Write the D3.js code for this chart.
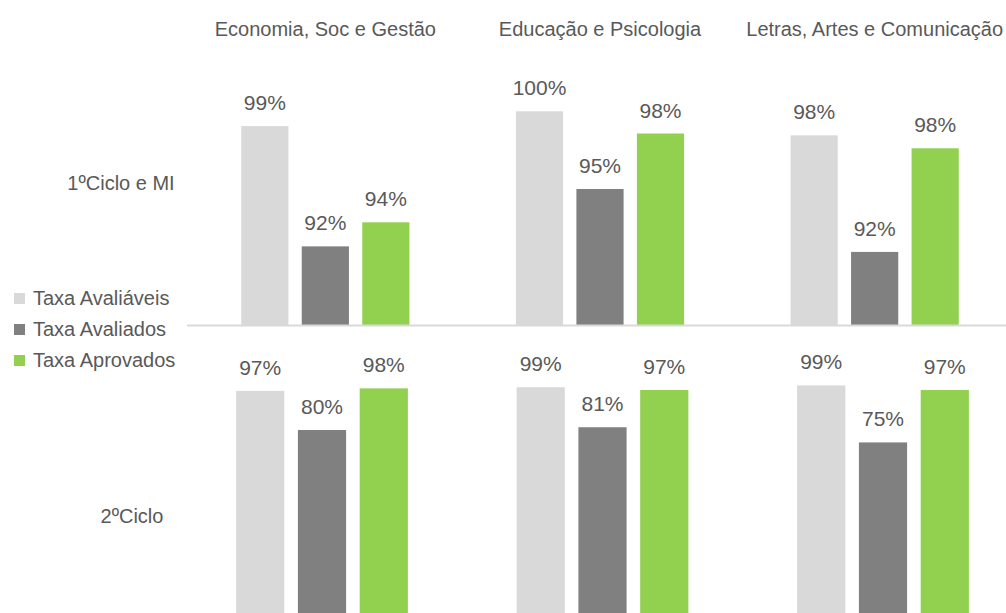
<!DOCTYPE html>
<html><head><meta charset="utf-8">
<script src="https://cdn.jsdelivr.net/npm/d3@7"></script>
<style>
body{margin:0;background:#fff}
svg{display:block}
text{font-family:"Liberation Sans",Arial,sans-serif;fill:#595959}
</style></head>
<body><svg id="c" width="1006" height="613"></svg>
<script>
// ---- data ----
const areas = ["Economia, Soc e Gestão", "Educação e Psicologia", "Letras, Artes e Comunicação"];
const cycles = ["1ºCiclo e MI", "2ºCiclo"];
const series = ["Taxa Avaliáveis", "Taxa Avaliados", "Taxa Aprovados"];
// 1ºCiclo e MI, per area
const avaliaveis1 = [0.988, 0.996, 0.983];
const avaliados1  = [0.923, 0.954, 0.920];
const aprovados1  = [0.936, 0.984, 0.976];
// 2ºCiclo, per area
const avaliaveis2 = [0.970, 0.986, 0.994];
const avaliados2  = [0.800, 0.812, 0.746];
const aprovados2  = [0.981, 0.974, 0.974];

const colors = ["#d9d9d9", "#808080", "#92d050"];
const fmt = d3.format(".0%");

const svg = d3.select("#c");

const rows = [
  { name: cycles[0], vals: [avaliaveis1, avaliados1, aprovados1],
    x: d3.scaleBand().domain(areas).range([188, 1012]),
    y: d3.scaleLinear().domain([0.8805, 1]).range([325, 103.9]),
    lx: 121, ly: 190 },
  { name: cycles[1], vals: [avaliaveis2, avaliados2, aprovados2],
    x: d3.scaleBand().domain(areas).range([181.75, 1023.25]),
    y: d3.scaleLinear().domain([0, 1]).range([614, 384]),
    lx: 132, ly: 523 }
];

rows.forEach((r, ri) => {
  const inner = d3.scaleBand().domain(series).range([0, r.x.bandwidth()])
    .paddingInner(0.22).paddingOuter(0.88);
  const g = svg.append("g");
  const data = [];
  areas.forEach((a, ai) => series.forEach((s, si) => data.push({a, s, si, v: r.vals[si][ai]})));
  g.selectAll("rect").data(data).join("rect")
    .attr("x", d => r.x(d.a) + inner(d.s))
    .attr("width", inner.bandwidth())
    .attr("y", d => r.y(d.v))
    .attr("height", d => r.y.range()[0] - r.y(d.v))
    .attr("fill", d => colors[d.si]);
  g.selectAll("text.lbl").data(data).join("text").attr("class", "lbl")
    .attr("x", d => r.x(d.a) + inner(d.s) + inner.bandwidth() / 2)
    .attr("y", d => r.y(d.v) - 16)
    .attr("text-anchor", "middle")
    .style("font-size", "21px")
    .text(d => fmt(d.v));
  svg.append("text")
    .attr("x", r.lx).attr("y", r.ly)
    .attr("text-anchor", "middle")
    .style("font-size", "20px")
    .text(r.name);
});

// separator axis line under the first row
const r0 = rows[0];
svg.append("line")
  .attr("x1", r0.x.range()[0] - 1).attr("x2", 1006)
  .attr("y1", r0.y.range()[0] + 0.5).attr("y2", r0.y.range()[0] + 0.5)
  .attr("stroke", "#d9d9d9").attr("stroke-width", 2);

// column titles
svg.selectAll("text.title").data(areas).join("text").attr("class", "title")
  .attr("x", d => r0.x(d) + r0.x.bandwidth() / 2)
  .attr("y", 36)
  .attr("text-anchor", "middle")
  .style("font-size", "20px")
  .text(d => d);

// legend
const leg = svg.append("g").selectAll("g").data(series).join("g")
  .attr("transform", (d, i) => `translate(14,${305 + i * 31})`);
leg.append("rect").attr("x", 0).attr("y", -12).attr("width", 11).attr("height", 11)
  .attr("fill", (d, i) => colors[i]);
leg.append("text").attr("x", 19).attr("y", 0)
  .style("font-size", "20px").text(d => d);
</script>
</body></html>
